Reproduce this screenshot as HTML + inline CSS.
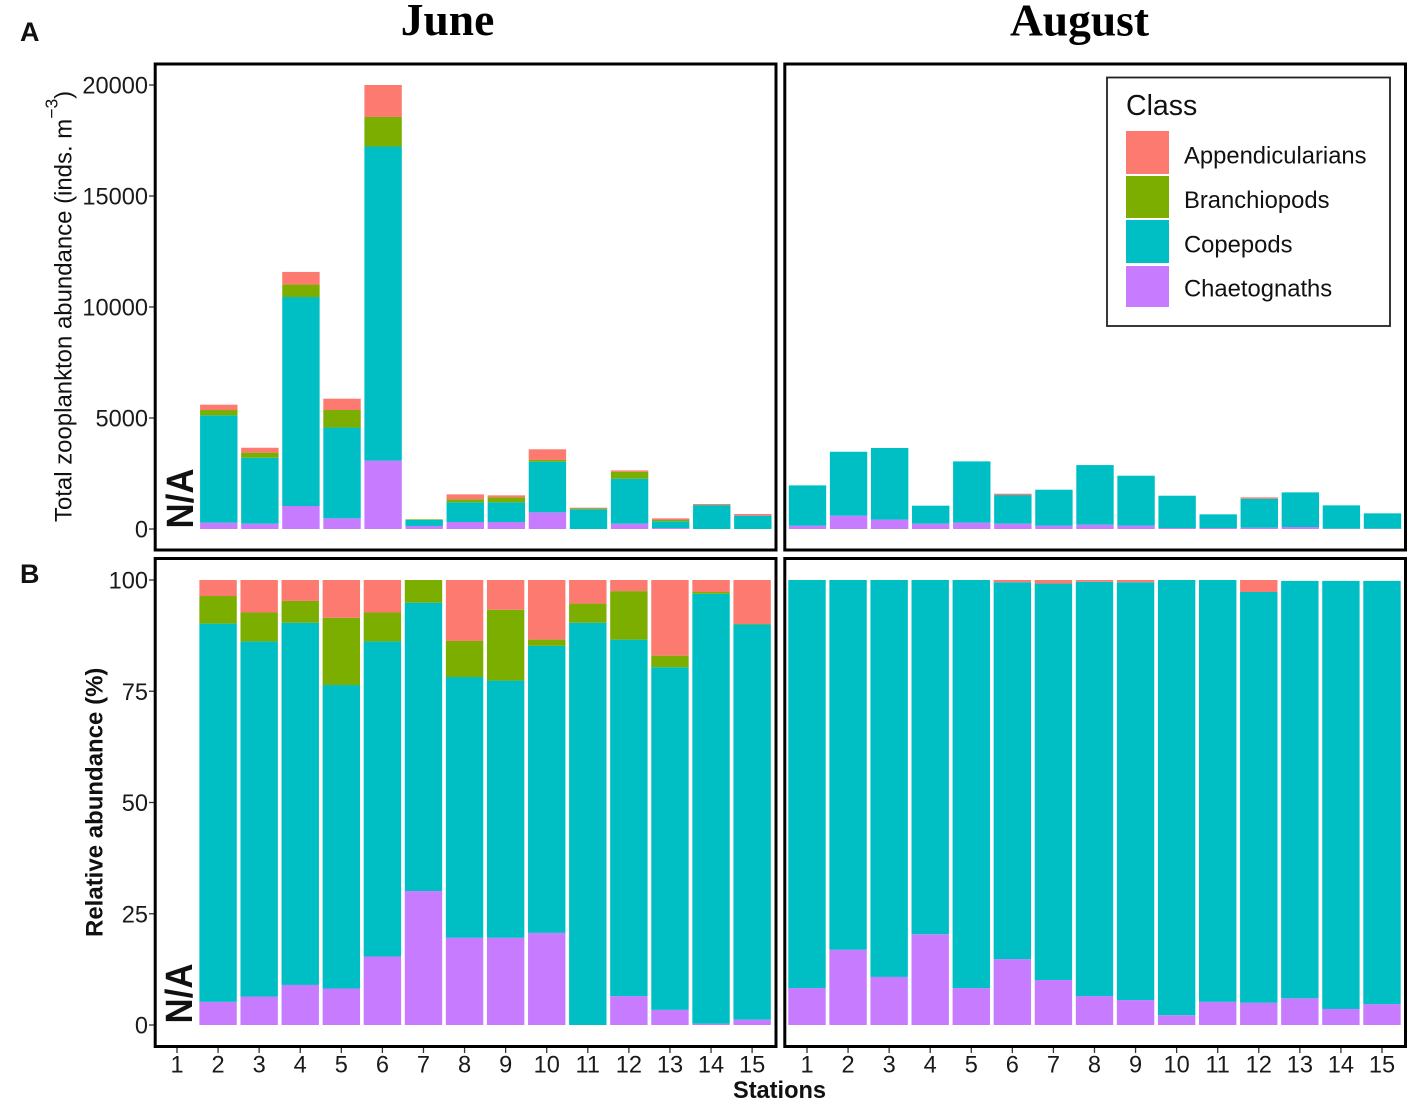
<!DOCTYPE html>
<html lang="en">
<head>
<meta charset="utf-8">
<title>Zooplankton abundance by station</title>
<style>
  html, body { margin: 0; padding: 0; background: #fff; }
  #chart { display: block; width: 1411px; height: 1099px; filter: blur(0.35px); }
  text { font-family: "Liberation Sans", Arial, sans-serif; fill: #111; }
  .tick { font-size: 23.6px; fill: #1a1a1a; }
  .serif { font-family: "Liberation Serif", "Times New Roman", serif; font-weight: bold; font-size: 45.5px; fill: #000; }
</style>
</head>
<body>
<svg id="chart" xmlns="http://www.w3.org/2000/svg" width="1411" height="1099" viewBox="0 0 1411 1099">
  <rect x="0" y="0" width="1411" height="1099" fill="#fff"/>
  <g id="marks"></g>
  <g id="axes"></g>

  <rect x="155.2" y="64" width="620.8" height="486" fill="none" stroke="#000" stroke-width="3"/>
  <rect x="784.8" y="64" width="620.7" height="486" fill="none" stroke="#000" stroke-width="3"/>
  <rect x="155.2" y="558.5" width="620.8" height="488" fill="none" stroke="#000" stroke-width="3"/>
  <rect x="784.8" y="558.5" width="620.7" height="488" fill="none" stroke="#000" stroke-width="3"/>

  <text class="serif" x="447.5" y="35" text-anchor="middle">June</text>
  <text class="serif" x="1079.5" y="35.5" text-anchor="middle">August</text>
  <text x="20" y="41" font-size="27" font-weight="bold" fill="#000">A</text>
  <text x="20" y="583" font-size="27" font-weight="bold" fill="#000">B</text>

  <text transform="translate(71.6,522) rotate(-90)" font-size="23.95">Total zooplankton abundance (inds. m<tspan font-size="17.5" dy="-14">−3</tspan><tspan dy="14">)</tspan></text>
  <text transform="translate(102.5,937) rotate(-90)" font-size="24" font-weight="bold">Relative abundance (%)</text>
  <text x="779.5" y="1098" font-size="23.6" font-weight="bold" text-anchor="middle">Stations</text>

  <text transform="translate(193,528.5) rotate(-90)" font-size="38" font-weight="bold" fill="#000" textLength="60" lengthAdjust="spacingAndGlyphs">N/A</text>
  <text transform="translate(192,1023.5) rotate(-90)" font-size="38" font-weight="bold" fill="#000" textLength="60" lengthAdjust="spacingAndGlyphs">N/A</text>

  <g>
    <rect x="1107" y="77.5" width="283" height="248.5" fill="#fff" stroke="#222" stroke-width="1.8"/>
    <text x="1126" y="115" font-size="28.5">Class</text>
    <rect x="1126" y="131" width="43" height="43" fill="#FC7A70"/>
    <rect x="1126" y="176" width="43" height="42" fill="#7CAE00"/>
    <rect x="1126" y="220" width="43" height="43" fill="#00BFC4"/>
    <rect x="1126" y="266" width="43" height="41" fill="#C77CFF"/>
    <text x="1184" y="163.5" font-size="23.8">Appendicularians</text>
    <text x="1184" y="208" font-size="23.8">Branchiopods</text>
    <text x="1184" y="252.5" font-size="23.8">Copepods</text>
    <text x="1184" y="296.5" font-size="23.8">Chaetognaths</text>
  </g>
</svg>

<script>
// Categories and tick labels
const stations = [1,2,3,4,5,6,7,8,9,10,11,12,13,14,15];
const absoluteTicks = [0,5000,10000,15000,20000];
const relativeTicks = [0,25,50,75,100];

// June, total abundance (inds. m-3)
const juneAbsChaetognaths     = [0,285,240,1036,480,3080,135,315,315,750,0,240,45,0,0];
const juneAbsCopepods         = [0,4835,2970,9414,4090,14150,275,885,885,2280,887,2026,302,1075,600];
const juneAbsBranchiopods     = [0,240,230,560,790,1330,27,136,225,80,40,314,58,6,0];
const juneAbsAppendicularians = [0,240,220,570,510,1440,0,224,91,480,33,60,75,45,76];

// August, total abundance (inds. m-3)
const augAbsChaetognaths      = [150,600,420,240,285,240,150,195,150,45,45,60,90,15,15];
const augAbsCopepods          = [1815,2880,3230,810,2760,1290,1620,2685,2250,1455,615,1305,1560,1050,690];
const augAbsBranchiopods      = [0,0,0,0,0,0,0,0,0,0,0,0,0,0,0];
const augAbsAppendicularians  = [0,0,0,0,0,60,0,0,0,0,0,60,0,0,0];

// June, relative abundance (%)
const juneRelChaetognaths     = [0,5.2,6.4,9,8.2,15.4,30.1,19.6,19.6,20.7,0,6.5,3.4,0.3,1.2];
const juneRelCopepods         = [0,85,79.8,81.4,68.2,70.8,64.8,58.6,57.8,64.5,90.4,80.1,77,96.6,88.8];
const juneRelBranchiopods     = [0,6.2,6.5,4.9,15.1,6.5,5.1,8.1,15.9,1.4,4.3,10.9,2.6,0.4,0.1];
const juneRelAppendicularians = [0,3.6,7.3,4.7,8.5,7.3,0,13.7,6.7,13.4,5.3,2.5,17,2.7,9.9];

// August, relative abundance (%)
const augRelChaetognaths      = [8.3,16.9,10.8,20.4,8.3,14.8,10.1,6.5,5.6,2.2,5.2,5,6,3.6,4.7];
const augRelCopepods          = [91.7,83.1,89.2,79.6,91.7,84.7,89.1,93.1,93.9,97.8,94.8,92.3,93.8,96.2,95.1];
const augRelBranchiopods      = [0,0,0,0,0,0,0,0,0,0,0,0,0,0,0];
const augRelAppendicularians  = [0,0,0,0,0,0.5,0.8,0.4,0.5,0,0,2.7,0,0,0];

const seriesNames = ['chaetognaths','copepods','branchiopods','appendicularians'];
const seriesColors = ['#C77CFF','#00BFC4','#7CAE00','#FC7A70'];

const NS = 'http://www.w3.org/2000/svg';
const marks = document.getElementById('marks');
const axes = document.getElementById('axes');

// Axis functions
function xJune(s) { return 177 + (s - 1) * 41.08; }
function xAugust(s) { return 807 + (s - 1) * 41.07; }
function yAbsolute(v) { return 529 - v * 0.0222; }
function yRelative(v) { return 1025 - v * 4.45; }
const BAR_WIDTH = 37.4;

function drawPanel(panelName, xFn, yFn, nudge, layers) {
  stations.forEach(function (s, i) {
    let sum = 0;
    layers.forEach(function (layer, k) {
      const v = layer[i];
      if (!v) return;
      const y0 = yFn(sum);
      const y1 = yFn(sum + v);
      sum += v;
      const r = document.createElementNS(NS, 'rect');
      r.setAttribute('x', xFn(s) + nudge - BAR_WIDTH / 2);
      r.setAttribute('y', y1);
      r.setAttribute('width', BAR_WIDTH);
      r.setAttribute('height', y0 - y1);
      r.setAttribute('fill', seriesColors[k]);
      
      
      marks.appendChild(r);
    });
  });
}

drawPanel('june-absolute', xJune, yAbsolute, 0.7, [juneAbsChaetognaths, juneAbsCopepods, juneAbsBranchiopods, juneAbsAppendicularians]);
drawPanel('august-absolute', xAugust, yAbsolute, 0.5, [augAbsChaetognaths, augAbsCopepods, augAbsBranchiopods, augAbsAppendicularians]);
drawPanel('june-relative', xJune, yRelative, 0, [juneRelChaetognaths, juneRelCopepods, juneRelBranchiopods, juneRelAppendicularians]);
drawPanel('august-relative', xAugust, yRelative, 0, [augRelChaetognaths, augRelCopepods, augRelBranchiopods, augRelAppendicularians]);

function drawLine(name, x1, y1, x2, y2) {
  const l = document.createElementNS(NS, 'line');
  l.setAttribute('x1', x1);
  l.setAttribute('y1', y1);
  l.setAttribute('x2', x2);
  l.setAttribute('y2', y2);
  l.setAttribute('stroke', '#333');
  l.setAttribute('stroke-width', '1.3');
  
  
  axes.appendChild(l);
}

function drawLabel(name, x, y, anchor, str) {
  const t = document.createElementNS(NS, 'text');
  t.setAttribute('x', x);
  t.setAttribute('y', y);
  t.setAttribute('text-anchor', anchor);
  t.setAttribute('class', 'tick');
  
  
  t.textContent = str;
  axes.appendChild(t);
}

function drawYAxis(axisName, yFn, ticks) {
  ticks.forEach(function (v) {
    drawLine(axisName + '-tick-' + v, 149, yFn(v), 154, yFn(v));
    drawLabel(axisName + '-label-' + v, 148, yFn(v) + 8.5, 'end', String(v));
  });
}

function drawXAxis(axisName, xFn) {
  stations.forEach(function (s) {
    drawLine(axisName + '-tick-' + s, xFn(s), 1048, xFn(s), 1053);
    drawLabel(axisName + '-label-' + s, xFn(s), 1072.5, 'middle', String(s));
  });
}

drawYAxis('y-axis-absolute', yAbsolute, absoluteTicks);
drawYAxis('y-axis-relative', yRelative, relativeTicks);
drawXAxis('x-axis-june', xJune);
drawXAxis('x-axis-august', xAugust);
</script>
</body>
</html>
